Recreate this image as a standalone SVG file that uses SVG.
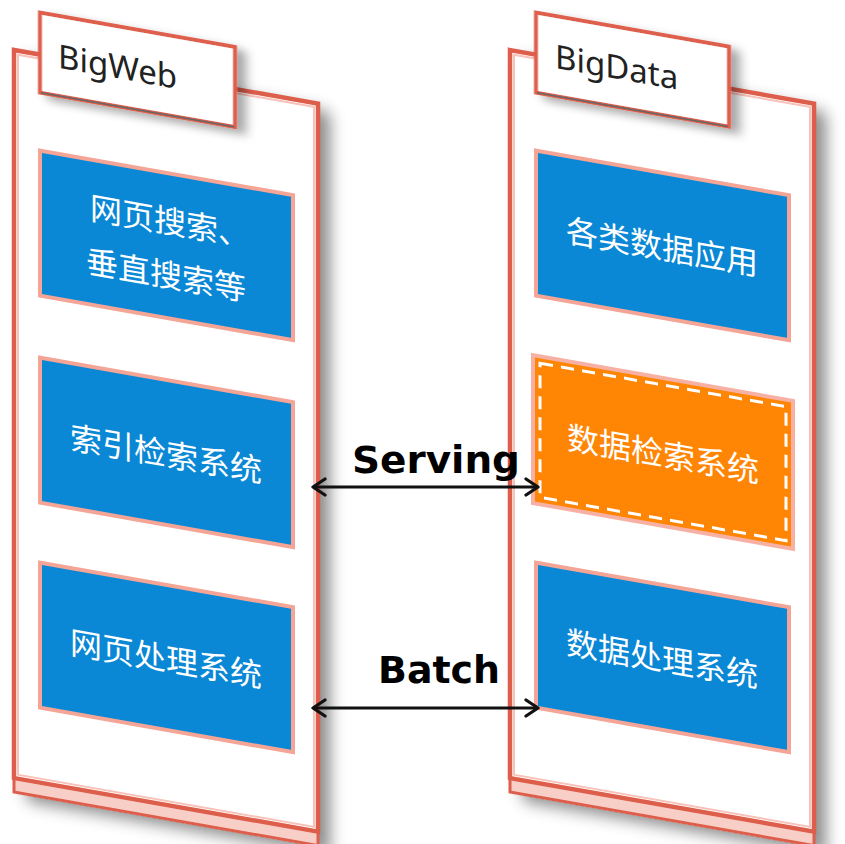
<svg xmlns="http://www.w3.org/2000/svg" width="845" height="844" viewBox="0 0 845 844">
<defs>
<filter id="sh" x="-10%" y="-10%" width="130%" height="125%">
<feDropShadow dx="12" dy="6" stdDeviation="8" flood-color="#000" flood-opacity="0.45"/>
</filter>
<filter id="tsh" x="-10%" y="-20%" width="130%" height="160%">
<feDropShadow dx="9" dy="4" stdDeviation="5" flood-color="#000" flood-opacity="0.35"/>
</filter>
<marker id="ah" viewBox="0 0 16 20" refX="14" refY="10" markerWidth="16" markerHeight="20" markerUnits="userSpaceOnUse" orient="auto-start-reverse">
<path d="M2,2 L14,10 L2,18" fill="none" stroke="#111" stroke-width="3.2" stroke-linecap="round" stroke-linejoin="round"/>
</marker>
<style>
.panel{fill:#fff;stroke:#DE5E4C;stroke-width:4.5}
.inner{fill:none;stroke:#F8C2B8;stroke-width:2}
.slab{fill:#F7CFC6;stroke:#DE5E4C;stroke-width:3}
.tab{fill:#fff;stroke:#DE5E4C;stroke-width:4}
.tabline{stroke:#666;stroke-width:1.5}
.blue{fill:#0A87D5;stroke:#F4A596;stroke-width:4}
.orange{fill:#FF8505;stroke:#F7B1A4;stroke-width:4}
.dash{fill:none;stroke:#fff;stroke-width:3;stroke-dasharray:13 8}
.cn{font-family:"Noto Sans CJK SC","Noto Sans",sans-serif;font-size:32px;fill:#fff;text-anchor:middle;dominant-baseline:central}
.title{font-family:"Noto Sans","Liberation Sans",sans-serif;font-size:33px;fill:#222}
.lbl{font-family:"DejaVu Sans","Liberation Sans",sans-serif;font-weight:bold;font-size:37px;fill:#000}
.conn{stroke:#111;stroke-width:3.2;fill:none}
</style>
</defs>
<rect width="845" height="844" fill="#fff"/>

<g id="bigweb" transform="translate(14,50) skewY(10)">
<rect x="0" y="0" width="304" height="743" fill="#fff" filter="url(#sh)"/>
<rect class="slab" x="0" y="728" width="304" height="14"/>
<rect class="panel" x="0" y="0" width="304" height="728"/>
<rect class="inner" x="4" y="4" width="296" height="720"/>
<g filter="url(#tsh)">
<path class="tab" d="M26,38 L26,-42 L221,-42 L221,38 Z"/>
</g>
<line class="tabline" x1="27" y1="38" x2="220" y2="38"/>
<text class="title" x="44" y="10">BigWeb</text>
<g id="web-search">
<rect class="blue" x="26" y="96" width="253" height="145"/>
<text class="cn" x="156" y="142">网页搜索、</text>
<text class="cn" x="152" y="196">垂直搜索等</text>
</g>
<g id="web-index">
<rect class="blue" x="26" y="303" width="253" height="145"/>
<text class="cn" x="152" y="375">索引检索系统</text>
</g>
<g id="web-process">
<rect class="blue" x="26" y="508" width="253" height="145"/>
<text class="cn" x="152" y="580">网页处理系统</text>
</g>
</g>

<g id="bigdata" transform="translate(510,50) skewY(10)">
<rect x="0" y="0" width="304" height="743" fill="#fff" filter="url(#sh)"/>
<rect class="slab" x="0" y="728" width="304" height="14"/>
<rect class="panel" x="0" y="0" width="304" height="728"/>
<rect class="inner" x="4" y="4" width="296" height="720"/>
<g filter="url(#tsh)">
<path class="tab" d="M26,38 L26,-42 L219,-42 L219,38 Z"/>
</g>
<line class="tabline" x1="27" y1="38" x2="218" y2="38"/>
<text class="title" x="45" y="10">BigData</text>
<g id="data-apps">
<rect class="blue" x="26" y="96" width="253" height="145"/>
<text class="cn" x="152" y="168">各类数据应用</text>
</g>
<g id="data-retrieval">
<rect class="orange" x="23" y="301" width="260" height="148"/>
<rect class="dash" x="30" y="308" width="246" height="134"/>
<text class="cn" x="153" y="375">数据检索系统</text>
</g>
<g id="data-process">
<rect class="blue" x="26" y="508" width="253" height="145"/>
<text class="cn" x="152" y="580">数据处理系统</text>
</g>
</g>

<g id="connectors">
<line class="conn" x1="313" y1="487" x2="538" y2="487" marker-start="url(#ah)" marker-end="url(#ah)"/>
<text class="lbl" x="352" y="473" textLength="168" lengthAdjust="spacingAndGlyphs">Serving</text>
<line class="conn" x1="313" y1="708" x2="538" y2="708" marker-start="url(#ah)" marker-end="url(#ah)"/>
<text class="lbl" x="378" y="683" textLength="122" lengthAdjust="spacingAndGlyphs">Batch</text>
</g>
</svg>
